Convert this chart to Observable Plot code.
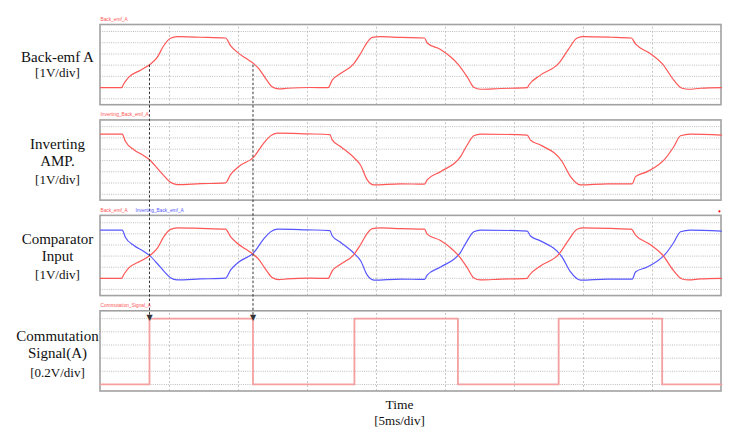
<!DOCTYPE html>
<html>
<head>
<meta charset="utf-8">
<script src="https://cdn.jsdelivr.net/npm/d3@7"></script>
<script src="https://cdn.jsdelivr.net/npm/@observablehq/plot@0.6"></script>
<style>
  body { margin: 0; background: #fff; }
</style>
</head>
<body>
<div id="chart"></div>
<script>
// time in ms (9 divisions of 5 ms), voltages in V
const timeTicks = [5, 10, 15, 20, 25, 30, 35, 40];

const backEmfT = [0, 1.52, 1.70, 2.05, 2.90, 3.55, 4.11, 4.59, 5.07, 5.56, 7.25, 9.06, 9.42, 9.91, 10.51, 11.11, 11.47, 11.96, 12.44, 12.92, 13.53, 15.22, 16.49, 16.79, 17.39, 18.36, 18.84, 19.33, 19.69, 20.29, 21.74, 23.48, 23.67, 24.64, 25.36, 25.90, 26.57, 27.05, 27.54, 28.99, 30.92, 31.04, 31.88, 33.20, 33.93, 34.54, 35.02, 36.96, 38.46, 38.77, 39.86, 40.72, 41.54, 42.15, 42.63, 43.48, 45];
const backEmfV = [0.99, 0.99, 1.36, 1.93, 2.55, 3.03, 3.69, 4.75, 5.40, 5.54, 5.49, 5.42, 4.75, 4.16, 3.63, 3.12, 2.70, 1.82, 1.08, 0.88, 0.94, 1.01, 0.99, 1.67, 2.26, 3.14, 4.02, 5.04, 5.47, 5.54, 5.47, 5.42, 4.98, 4.40, 3.75, 3.10, 1.96, 1.03, 0.85, 0.92, 0.99, 1.23, 2.11, 3.15, 4.46, 5.42, 5.54, 5.49, 5.42, 4.89, 4.02, 3.12, 1.67, 0.94, 0.85, 0.94, 0.99];

const invEmfT = [0, 1.57, 1.81, 2.42, 3.14, 3.55, 4.11, 4.59, 5.07, 5.56, 7.25, 9.06, 9.42, 10.02, 11.10, 11.83, 12.32, 12.81, 14.98, 16.62, 16.79, 17.39, 18.41, 18.84, 19.33, 19.81, 21.74, 23.48, 23.67, 24.64, 26.09, 26.57, 27.05, 27.54, 30.92, 31.16, 31.88, 33.46, 34.06, 34.78, 36.72, 38.53, 38.77, 39.62, 40.94, 41.54, 42.03, 42.75, 45];
const invEmfV = [5.33, 5.33, 4.68, 3.95, 3.42, 3.06, 2.33, 1.65, 1.06, 0.86, 0.94, 1.01, 1.74, 2.47, 3.30, 4.54, 5.18, 5.42, 5.36, 5.30, 4.83, 4.24, 3.20, 2.60, 1.28, 0.84, 0.93, 0.90, 1.28, 2.01, 3.34, 4.37, 5.19, 5.34, 5.25, 4.81, 4.37, 2.89, 1.57, 0.84, 0.93, 0.93, 1.57, 2.01, 3.19, 4.22, 5.19, 5.34, 5.25];

const commT = [0, 3.55, 11.05, 18.4, 25.9, 33.2, 40.7, 45];
const commV = [0, 1, 0, 1, 0, 1, 0, 0];

// commutation instants marked with arrows
const arrowT = [3.55, 11.05];

const panelTitles = [["Back-emf A"], ["Inverting", "AMP."], ["Comparator", "Input"], ["Commutation", "Signal(A)"]];
const panelUnits = ["[1V/div]", "[1V/div]", "[1V/div]", "[0.2V/div]"];

const voltGrid = [0, 1, 2, 3, 4, 5, 6];
const commGrid = [0, 0.2, 0.4, 0.6, 0.8, 1];

// value range shown inside each panel frame
const panelLo = [-0.57, -0.56, -0.6, -0.107];
const panelHi = [6.58, 6.55, 6.62, 1.112];

const RED = "#ff5656";
const BLUE = "#5656ff";
const SERIF = "'Liberation Serif', 'Times New Roman', serif";
const PITCH = 1.19;

// each panel maps its own values into a stacked band of the shared y scale
const py = panelLo.map((lo, i) =>
  d3.scaleLinear().domain([lo, panelHi[i]]).range([i * PITCH + 1, i * PITCH]));

const series = (T, V, p) => T.map((t, k) => ({t, y: py[p](V[k])}));

const panels = d3.range(4);
const vGrid = panels.flatMap(i => timeTicks.map(t => ({t, y1: py[i](panelLo[i]), y2: py[i](panelHi[i])})));
const hGrid = panels.flatMap(i => (i < 3 ? voltGrid : commGrid).map(v => ({y: py[i](v)})));

// left-hand labels: first baseline offset and unit baseline offset, px from panel centre
const titleDy = [-3.5, -12, -12, -10.5];
const unitDy = [11.5, 23, 23.5, 26];

const labelMarks = panels.flatMap(i => {
  const yc = py[i]((panelLo[i] + panelHi[i]) / 2);
  const common = {frameAnchor: "left", y: yc, dx: -43, textAnchor: "middle", lineAnchor: "bottom",
    fontFamily: SERIF, fill: "#111"};
  return [
    ...panelTitles[i].map((s, k) => Plot.text([s], {...common, text: d => d, fontSize: 15, dy: titleDy[i] + k * 17})),
    Plot.text([panelUnits[i]], {...common, text: d => d, fontSize: 13, dy: unitDy[i]})
  ];
});

const traceLabel = (name, p, color, dx) => Plot.text([name], {
  x: 0, y: py[p](panelHi[p]), text: d => d, dx, dy: -4,
  textAnchor: "start", lineAnchor: "bottom", fontSize: 4.8, fill: color,
  fontFamily: "'Liberation Sans', Arial, sans-serif"
});

const chart = Plot.plot({
  width: 737,
  height: 441,
  marginLeft: 100,
  marginRight: 16,
  marginTop: 24.5,
  marginBottom: 50,
  style: {background: "#fff"},
  x: {domain: [0, 45], axis: null},
  y: {domain: [0, 3 * PITCH + 1], reverse: true, axis: null},
  marks: [
    Plot.ruleX(vGrid, {x: "t", y1: "y1", y2: "y2", stroke: "#c6c6c6", strokeDasharray: "2,2"}),
    Plot.ruleY(hGrid, {y: "y", x1: 0, x2: 45, stroke: "#bdbdbd", strokeDasharray: "1,1.2"}),
    Plot.rect(panels, {x1: 0, x2: 45, y1: i => py[i](panelLo[i]), y2: i => py[i](panelHi[i]),
      fill: "none", stroke: "#a2a2a2", strokeWidth: 1.6}),

    Plot.line(series(backEmfT, backEmfV, 0), {x: "t", y: "y", stroke: RED, strokeWidth: 1.2, curve: "monotone-x"}),
    Plot.line(series(invEmfT, invEmfV, 1), {x: "t", y: "y", stroke: RED, strokeWidth: 1.2, curve: "monotone-x"}),
    Plot.line(series(invEmfT, invEmfV, 2), {x: "t", y: "y", stroke: BLUE, strokeWidth: 1.2, curve: "monotone-x"}),
    Plot.line(series(backEmfT, backEmfV, 2), {x: "t", y: "y", stroke: RED, strokeWidth: 1.2, curve: "monotone-x"}),
    Plot.line(series(commT, commV, 3), {x: "t", y: "y", stroke: "#f5a0a0", strokeWidth: 1.8, curve: "step-after"}),

    Plot.ruleX(arrowT, {x: d => d, y1: py[0](3.0), y2: py[3](1.0), stroke: "#333", strokeWidth: 1, strokeDasharray: "2.5,2"}),
    Plot.text(arrowT, {x: d => d, y: py[3](1.0), dy: 1, text: () => "▼", fontSize: 8, lineAnchor: "bottom",
      fill: "#333", fontFamily: "'DejaVu Sans', sans-serif"}),

    traceLabel("Back_emf_A", 0, RED, 0),
    traceLabel("Inverting_Back_emf_A", 1, RED, 0),
    traceLabel("Back_emf_A", 2, RED, 0),
    traceLabel("Inverting_Back_emf_A", 2, BLUE, 35),
    traceLabel("Commutation_Signal_A", 3, RED, 0),
    Plot.dot([44.85], {x: d => d, y: py[2](panelHi[2]), dy: -4.5, r: 1.1, fill: "red", stroke: "none"}),

    ...labelMarks,
    Plot.text(["Time"], {frameAnchor: "bottom", dx: -11.5, dy: 17, lineAnchor: "bottom", text: d => d,
      fontFamily: SERIF, fontSize: 13.5, fill: "#111"}),
    Plot.text(["[5ms/div]"], {frameAnchor: "bottom", dx: -11.5, dy: 33, lineAnchor: "bottom", text: d => d,
      fontFamily: SERIF, fontSize: 13, fill: "#111"})
  ]
});

document.getElementById("chart").appendChild(chart);
</script>
</body>
</html>
